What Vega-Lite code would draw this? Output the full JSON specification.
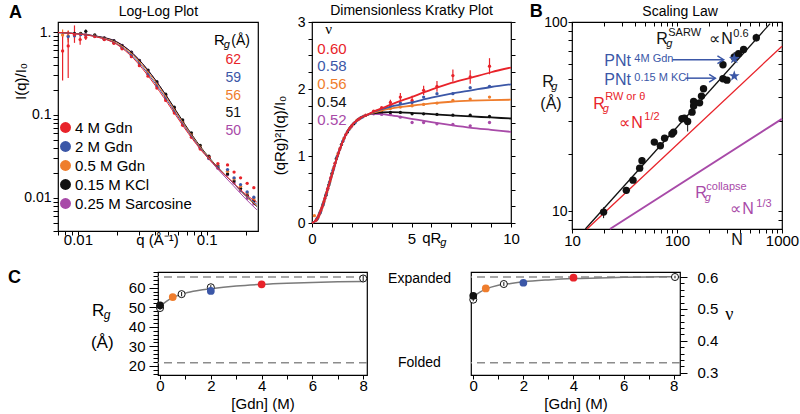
{
"$schema": "https://vega.github.io/schema/vega-lite/v6.json",
"background": "white",
"padding": {"left": 8, "top": 2, "right": 0, "bottom": 0},
"config": {
 "font": "Liberation Sans",
 "view": {"stroke": "#000000", "strokeWidth": 1.2},
 "axis": {"domain": false, "grid": false, "labelFont": "Liberation Sans", "labelFontSize": 14, "labelColor": "#000000", "tickColor": "#000000", "tickWidth": 1, "titleFont": "Liberation Sans", "titleFontSize": 15, "titleFontWeight": "normal", "titleColor": "#000000", "labelOverlap": false, "labelFlush": false, "labelBound": false},
 "text": {"font": "Liberation Sans", "baseline": "alphabetic", "align": "left"}
},
"datasets": {
 "llLine": [
  {"s":"p","q":0.007,"I":0.985},{"s":"p","q":0.01,"I":0.956},{"s":"p","q":0.014,"I":0.892},{"s":"p","q":0.02,"I":0.765},{"s":"p","q":0.027,"I":0.545},{"s":"p","q":0.037,"I":0.31},{"s":"p","q":0.05,"I":0.158},{"s":"p","q":0.067,"I":0.077},{"s":"p","q":0.09,"I":0.0395},{"s":"p","q":0.12,"I":0.0228},{"s":"p","q":0.16,"I":0.0142},{"s":"p","q":0.2,"I":0.0098},{"s":"p","q":0.245,"I":0.0072},
  {"s":"k","q":0.007,"I":0.985},{"s":"k","q":0.01,"I":0.955},{"s":"k","q":0.014,"I":0.89},{"s":"k","q":0.02,"I":0.76},{"s":"k","q":0.027,"I":0.54},{"s":"k","q":0.037,"I":0.31},{"s":"k","q":0.05,"I":0.16},{"s":"k","q":0.067,"I":0.079},{"s":"k","q":0.09,"I":0.041},{"s":"k","q":0.12,"I":0.024},{"s":"k","q":0.16,"I":0.0152},{"s":"k","q":0.2,"I":0.0106},{"s":"k","q":0.245,"I":0.0079},
  {"s":"o","q":0.007,"I":0.983},{"s":"o","q":0.01,"I":0.95},{"s":"o","q":0.014,"I":0.88},{"s":"o","q":0.02,"I":0.74},{"s":"o","q":0.027,"I":0.52},{"s":"o","q":0.037,"I":0.295},{"s":"o","q":0.05,"I":0.152},{"s":"o","q":0.067,"I":0.076},{"s":"o","q":0.09,"I":0.04},{"s":"o","q":0.12,"I":0.0238},{"s":"o","q":0.16,"I":0.0152},{"s":"o","q":0.2,"I":0.0106},{"s":"o","q":0.245,"I":0.0081},
  {"s":"b","q":0.007,"I":0.982},{"s":"b","q":0.01,"I":0.948},{"s":"b","q":0.014,"I":0.875},{"s":"b","q":0.02,"I":0.72},{"s":"b","q":0.027,"I":0.5},{"s":"b","q":0.037,"I":0.28},{"s":"b","q":0.05,"I":0.145},{"s":"b","q":0.067,"I":0.073},{"s":"b","q":0.09,"I":0.039},{"s":"b","q":0.12,"I":0.0235},{"s":"b","q":0.16,"I":0.0152},{"s":"b","q":0.2,"I":0.0108},{"s":"b","q":0.245,"I":0.0084},
  {"s":"r","q":0.007,"I":0.99},{"s":"r","q":0.01,"I":0.945},{"s":"r","q":0.014,"I":0.87},{"s":"r","q":0.02,"I":0.71},{"s":"r","q":0.027,"I":0.48},{"s":"r","q":0.037,"I":0.265},{"s":"r","q":0.05,"I":0.137},{"s":"r","q":0.067,"I":0.07},{"s":"r","q":0.09,"I":0.038},{"s":"r","q":0.12,"I":0.0233},{"s":"r","q":0.16,"I":0.0154},{"s":"r","q":0.2,"I":0.0111},{"s":"r","q":0.245,"I":0.0089}
 ],
 "llPt": [
  {"s":"p","q":0.0094,"I":0.93},{"s":"p","q":0.0105,"I":0.95},{"s":"p","q":0.0115,"I":0.935},{"s":"p","q":0.0135,"I":0.905},{"s":"p","q":0.016,"I":0.845},{"s":"p","q":0.019,"I":0.782},{"s":"p","q":0.022,"I":0.686},{"s":"p","q":0.026,"I":0.566},{"s":"p","q":0.03,"I":0.449},{"s":"p","q":0.035,"I":0.341},{"s":"p","q":0.041,"I":0.246},{"s":"p","q":0.048,"I":0.173},{"s":"p","q":0.056,"I":0.12},{"s":"p","q":0.065,"I":0.0832},{"s":"p","q":0.076,"I":0.058},{"s":"p","q":0.089,"I":0.0405},{"s":"p","q":0.104,"I":0.0298},{"s":"p","q":0.122,"I":0.0228},{"s":"p","q":0.145,"I":0.019},{"s":"p","q":0.163,"I":0.0152},{"s":"p","q":0.183,"I":0.0122},{"s":"p","q":0.206,"I":0.0099},{"s":"p","q":0.232,"I":0.0085},
  {"s":"k","q":0.0094,"I":0.96},{"s":"k","q":0.0105,"I":0.96},{"s":"k","q":0.0115,"I":1.02},{"s":"k","q":0.0135,"I":0.92},{"s":"k","q":0.016,"I":0.85},{"s":"k","q":0.019,"I":0.785},{"s":"k","q":0.022,"I":0.69},{"s":"k","q":0.026,"I":0.57},{"s":"k","q":0.03,"I":0.455},{"s":"k","q":0.035,"I":0.348},{"s":"k","q":0.041,"I":0.252},{"s":"k","q":0.048,"I":0.178},{"s":"k","q":0.056,"I":0.124},{"s":"k","q":0.065,"I":0.087},{"s":"k","q":0.076,"I":0.061},{"s":"k","q":0.089,"I":0.043},{"s":"k","q":0.104,"I":0.0318},{"s":"k","q":0.122,"I":0.0245},{"s":"k","q":0.145,"I":0.0195},{"s":"k","q":0.163,"I":0.016},{"s":"k","q":0.183,"I":0.013},{"s":"k","q":0.206,"I":0.0108},{"s":"k","q":0.232,"I":0.0093},
  {"s":"o","q":0.0076,"I":0.92},{"s":"o","q":0.0084,"I":0.9},{"s":"o","q":0.0094,"I":0.92},{"s":"o","q":0.0105,"I":0.94},{"s":"o","q":0.0115,"I":0.925},{"s":"o","q":0.0135,"I":0.893},{"s":"o","q":0.016,"I":0.824},{"s":"o","q":0.019,"I":0.754},{"s":"o","q":0.022,"I":0.656},{"s":"o","q":0.026,"I":0.539},{"s":"o","q":0.03,"I":0.426},{"s":"o","q":0.035,"I":0.323},{"s":"o","q":0.041,"I":0.233},{"s":"o","q":0.048,"I":0.166},{"s":"o","q":0.056,"I":0.1163},{"s":"o","q":0.065,"I":0.0816},{"s":"o","q":0.076,"I":0.0577},{"s":"o","q":0.089,"I":0.041},{"s":"o","q":0.104,"I":0.0305},{"s":"o","q":0.122,"I":0.0237},{"s":"o","q":0.145,"I":0.021},{"s":"o","q":0.163,"I":0.017},{"s":"o","q":0.183,"I":0.0138},{"s":"o","q":0.206,"I":0.0115},{"s":"o","q":0.232,"I":0.0098},
  {"s":"b","q":0.0084,"I":0.88},{"s":"b","q":0.0094,"I":0.9},{"s":"b","q":0.0105,"I":0.93},{"s":"b","q":0.0115,"I":0.919},{"s":"b","q":0.0135,"I":0.886},{"s":"b","q":0.016,"I":0.816},{"s":"b","q":0.019,"I":0.742},{"s":"b","q":0.022,"I":0.642},{"s":"b","q":0.026,"I":0.525},{"s":"b","q":0.03,"I":0.411},{"s":"b","q":0.035,"I":0.31},{"s":"b","q":0.041,"I":0.223},{"s":"b","q":0.048,"I":0.158},{"s":"b","q":0.056,"I":0.111},{"s":"b","q":0.065,"I":0.078},{"s":"b","q":0.076,"I":0.056},{"s":"b","q":0.089,"I":0.04},{"s":"b","q":0.104,"I":0.03},{"s":"b","q":0.122,"I":0.0235},{"s":"b","q":0.145,"I":0.022},{"s":"b","q":0.163,"I":0.0175},{"s":"b","q":0.183,"I":0.0145},{"s":"b","q":0.206,"I":0.0118},{"s":"b","q":0.232,"I":0.0102},
  {"s":"r","q":0.0076,"I":0.59},{"s":"r","q":0.0084,"I":0.68},{"s":"r","q":0.0094,"I":0.93},{"s":"r","q":0.0104,"I":0.81},{"s":"r","q":0.0115,"I":0.86},{"s":"r","q":0.0135,"I":0.882},{"s":"r","q":0.016,"I":0.81},{"s":"r","q":0.019,"I":0.73},{"s":"r","q":0.022,"I":0.627},{"s":"r","q":0.026,"I":0.505},{"s":"r","q":0.03,"I":0.393},{"s":"r","q":0.035,"I":0.294},{"s":"r","q":0.041,"I":0.211},{"s":"r","q":0.048,"I":0.15},{"s":"r","q":0.056,"I":0.1057},{"s":"r","q":0.065,"I":0.075},{"s":"r","q":0.076,"I":0.0539},{"s":"r","q":0.089,"I":0.0389},{"s":"r","q":0.104,"I":0.031},{"s":"r","q":0.122,"I":0.026},{"s":"r","q":0.145,"I":0.025},{"s":"r","q":0.163,"I":0.0205},{"s":"r","q":0.183,"I":0.0175},{"s":"r","q":0.206,"I":0.015},{"s":"r","q":0.232,"I":0.0133}
 ],
 "llErr": [
  {"s":"k","q":0.0115,"lo":0.97,"hi":1.07},
  {"s":"b","q":0.0084,"lo":0.8,"hi":0.95},{"s":"b","q":0.0094,"lo":0.84,"hi":0.96},
  {"s":"o","q":0.0076,"lo":0.85,"hi":1.07},{"s":"o","q":0.0084,"lo":0.75,"hi":1.05},
  {"s":"r","q":0.0076,"lo":0.26,"hi":1.0},{"s":"r","q":0.0084,"lo":0.28,"hi":1.03},{"s":"r","q":0.0094,"lo":0.74,"hi":1.2},{"s":"r","q":0.0104,"lo":0.7,"hi":0.92},{"s":"r","q":0.0115,"lo":0.8,"hi":0.92}
 ],
 "llRg": [
  {"s":"r","q":0.1605,"I":0.415,"t":"62"},{"s":"b","q":0.1605,"I":0.25,"t":"59"},{"s":"o","q":0.1605,"I":0.153,"t":"56"},{"s":"k","q":0.1605,"I":0.0938,"t":"51"},{"s":"p","q":0.1605,"I":0.0569,"t":"50"}
 ],
 "llTxt": [
  {"k":"letter","q":0.00292,"I":1.475,"t":"A"},
  {"k":"title","q":0.0421,"I":1.559,"t":"Log-Log Plot"},
  {"k":"big","q":0.1139,"I":0.703,"t":"R"},
  {"k":"sub","q":0.1355,"I":0.641,"t":"g"},
  {"k":"big2","q":0.155,"I":0.703,"t":"(Å)"}
 ],
 "kLine": [
  {"s":"p","x":0,"y":0},{"s":"p","x":0.25,"y":0.06},{"s":"p","x":0.5,"y":0.23},{"s":"p","x":0.75,"y":0.47},{"s":"p","x":1,"y":0.72},{"s":"p","x":1.25,"y":0.97},{"s":"p","x":1.5,"y":1.18},{"s":"p","x":1.75,"y":1.35},{"s":"p","x":2,"y":1.46},{"s":"p","x":2.25,"y":1.53},{"s":"p","x":2.5,"y":1.58},{"s":"p","x":2.75,"y":1.61},{"s":"p","x":3,"y":1.63},{"s":"p","x":3.5,"y":1.625},{"s":"p","x":4,"y":1.605},{"s":"p","x":5,"y":1.555},{"s":"p","x":6,"y":1.505},{"s":"p","x":7,"y":1.46},{"s":"p","x":8,"y":1.42},{"s":"p","x":9,"y":1.39},{"s":"p","x":10,"y":1.36},
  {"s":"k","x":0,"y":0},{"s":"k","x":0.25,"y":0.06},{"s":"k","x":0.5,"y":0.23},{"s":"k","x":0.75,"y":0.47},{"s":"k","x":1,"y":0.72},{"s":"k","x":1.25,"y":0.97},{"s":"k","x":1.5,"y":1.18},{"s":"k","x":1.75,"y":1.35},{"s":"k","x":2,"y":1.46},{"s":"k","x":2.25,"y":1.53},{"s":"k","x":2.5,"y":1.58},{"s":"k","x":2.75,"y":1.61},{"s":"k","x":3,"y":1.635},{"s":"k","x":3.5,"y":1.65},{"s":"k","x":4,"y":1.655},{"s":"k","x":5,"y":1.645},{"s":"k","x":6,"y":1.625},{"s":"k","x":7,"y":1.605},{"s":"k","x":8,"y":1.59},{"s":"k","x":9,"y":1.575},{"s":"k","x":10,"y":1.56},
  {"s":"o","x":0,"y":0},{"s":"o","x":0.25,"y":0.06},{"s":"o","x":0.5,"y":0.23},{"s":"o","x":0.75,"y":0.47},{"s":"o","x":1,"y":0.72},{"s":"o","x":1.25,"y":0.97},{"s":"o","x":1.5,"y":1.18},{"s":"o","x":1.75,"y":1.35},{"s":"o","x":2,"y":1.46},{"s":"o","x":2.25,"y":1.53},{"s":"o","x":2.5,"y":1.58},{"s":"o","x":2.75,"y":1.61},{"s":"o","x":3,"y":1.64},{"s":"o","x":3.5,"y":1.68},{"s":"o","x":4,"y":1.71},{"s":"o","x":5,"y":1.75},{"s":"o","x":6,"y":1.785},{"s":"o","x":7,"y":1.81},{"s":"o","x":8,"y":1.825},{"s":"o","x":9,"y":1.835},{"s":"o","x":10,"y":1.84},
  {"s":"b","x":0,"y":0},{"s":"b","x":0.25,"y":0.06},{"s":"b","x":0.5,"y":0.23},{"s":"b","x":0.75,"y":0.47},{"s":"b","x":1,"y":0.72},{"s":"b","x":1.25,"y":0.97},{"s":"b","x":1.5,"y":1.18},{"s":"b","x":1.75,"y":1.35},{"s":"b","x":2,"y":1.46},{"s":"b","x":2.25,"y":1.53},{"s":"b","x":2.5,"y":1.58},{"s":"b","x":2.75,"y":1.61},{"s":"b","x":3,"y":1.645},{"s":"b","x":3.5,"y":1.7},{"s":"b","x":4,"y":1.74},{"s":"b","x":5,"y":1.8},{"s":"b","x":6,"y":1.87},{"s":"b","x":7,"y":1.93},{"s":"b","x":8,"y":1.98},{"s":"b","x":9,"y":2.03},{"s":"b","x":10,"y":2.07},
  {"s":"r","x":0,"y":0},{"s":"r","x":0.25,"y":0.06},{"s":"r","x":0.5,"y":0.23},{"s":"r","x":0.75,"y":0.47},{"s":"r","x":1,"y":0.72},{"s":"r","x":1.25,"y":0.97},{"s":"r","x":1.5,"y":1.18},{"s":"r","x":1.75,"y":1.35},{"s":"r","x":2,"y":1.46},{"s":"r","x":2.25,"y":1.53},{"s":"r","x":2.5,"y":1.58},{"s":"r","x":2.75,"y":1.61},{"s":"r","x":3,"y":1.65},{"s":"r","x":3.5,"y":1.71},{"s":"r","x":4,"y":1.77},{"s":"r","x":5,"y":1.88},{"s":"r","x":6,"y":1.99},{"s":"r","x":7,"y":2.09},{"s":"r","x":8,"y":2.17},{"s":"r","x":9,"y":2.25},{"s":"r","x":10,"y":2.32}
 ],
 "kPt": [
  {"s":"p","x":0.3,"y":0.087},{"s":"p","x":0.45,"y":0.188},{"s":"p","x":0.6,"y":0.32},{"s":"p","x":0.78,"y":0.5},{"s":"p","x":0.93,"y":0.66},{"s":"p","x":1.1,"y":0.835},{"s":"p","x":1.33,"y":1.05},{"s":"p","x":1.62,"y":1.27},{"s":"p","x":1.95,"y":1.43},{"s":"p","x":2.3,"y":1.54},
  {"s":"p","x":3.1,"y":1.63},{"s":"p","x":3.5,"y":1.62},{"s":"p","x":3.94,"y":1.62},{"s":"p","x":4.44,"y":1.58},{"s":"p","x":5.03,"y":1.5},{"s":"p","x":5.61,"y":1.5},{"s":"p","x":6.28,"y":1.48},{"s":"p","x":7.08,"y":1.47},{"s":"p","x":7.95,"y":1.45},{"s":"p","x":8.92,"y":1.5},
  {"s":"k","x":0.25,"y":0.06},{"s":"k","x":0.4,"y":0.15},{"s":"k","x":0.55,"y":0.27},{"s":"k","x":0.7,"y":0.415},{"s":"k","x":0.85,"y":0.57},{"s":"k","x":1.0,"y":0.735},{"s":"k","x":1.22,"y":0.96},{"s":"k","x":1.48,"y":1.17},{"s":"k","x":1.78,"y":1.36},{"s":"k","x":2.1,"y":1.48},{"s":"k","x":2.45,"y":1.57},
  {"s":"k","x":3.1,"y":1.64},{"s":"k","x":3.5,"y":1.65},{"s":"k","x":3.94,"y":1.65},{"s":"k","x":4.44,"y":1.65},{"s":"k","x":5.03,"y":1.63},{"s":"k","x":5.61,"y":1.63},{"s":"k","x":6.28,"y":1.62},{"s":"k","x":7.08,"y":1.61},{"s":"k","x":7.95,"y":1.61},{"s":"k","x":8.92,"y":1.59},
  {"s":"o","x":0.12,"y":0.11},{"s":"o","x":0.3,"y":0.087},{"s":"o","x":0.45,"y":0.188},{"s":"o","x":0.6,"y":0.32},{"s":"o","x":0.75,"y":0.465},{"s":"o","x":0.9,"y":0.625},{"s":"o","x":1.08,"y":0.815},{"s":"o","x":1.3,"y":1.03},{"s":"o","x":1.6,"y":1.26},{"s":"o","x":1.9,"y":1.41},{"s":"o","x":2.25,"y":1.53},{"s":"o","x":2.6,"y":1.595},
  {"s":"o","x":3.1,"y":1.65},{"s":"o","x":3.5,"y":1.68},{"s":"o","x":3.94,"y":1.71},{"s":"o","x":4.44,"y":1.73},{"s":"o","x":5.03,"y":1.75},{"s":"o","x":5.61,"y":1.77},{"s":"o","x":6.28,"y":1.79},{"s":"o","x":7.08,"y":1.83},{"s":"o","x":7.95,"y":1.85},{"s":"o","x":8.92,"y":1.88},
  {"s":"b","x":0.27,"y":0.07},{"s":"b","x":0.42,"y":0.165},{"s":"b","x":0.57,"y":0.29},{"s":"b","x":0.72,"y":0.435},{"s":"b","x":0.88,"y":0.605},{"s":"b","x":1.05,"y":0.785},{"s":"b","x":1.27,"y":0.995},{"s":"b","x":1.55,"y":1.22},{"s":"b","x":1.85,"y":1.39},{"s":"b","x":2.17,"y":1.5},{"s":"b","x":2.52,"y":1.58},
  {"s":"b","x":3.1,"y":1.66},{"s":"b","x":3.5,"y":1.7},{"s":"b","x":3.94,"y":1.75},{"s":"b","x":4.44,"y":1.79},{"s":"b","x":5.03,"y":1.8},{"s":"b","x":5.61,"y":1.88},{"s":"b","x":6.28,"y":1.93},{"s":"b","x":7.08,"y":1.93},{"s":"b","x":7.95,"y":2.02},{"s":"b","x":8.92,"y":2.04},
  {"s":"r","x":0.2,"y":0.04},{"s":"r","x":0.35,"y":0.12},{"s":"r","x":0.5,"y":0.23},{"s":"r","x":0.65,"y":0.37},{"s":"r","x":0.8,"y":0.52},{"s":"r","x":0.95,"y":0.68},{"s":"r","x":1.15,"y":0.89},{"s":"r","x":1.4,"y":1.11},{"s":"r","x":1.7,"y":1.32},{"s":"r","x":2.0,"y":1.45},{"s":"r","x":2.35,"y":1.55},{"s":"r","x":2.7,"y":1.61},
  {"s":"r","x":3.1,"y":1.67},{"s":"r","x":3.5,"y":1.72},{"s":"r","x":3.94,"y":1.8},{"s":"r","x":4.44,"y":1.88},{"s":"r","x":5.03,"y":1.83},{"s":"r","x":5.61,"y":1.98},{"s":"r","x":6.28,"y":2.04},{"s":"r","x":7.08,"y":2.2},{"s":"r","x":7.95,"y":2.18},{"s":"r","x":8.92,"y":2.34}
 ],
 "kErr": [
  {"s":"r","x":3.94,"lo":1.76,"hi":1.84},{"s":"r","x":4.44,"lo":1.82,"hi":1.94},{"s":"r","x":5.03,"lo":1.76,"hi":1.9},{"s":"r","x":5.61,"lo":1.91,"hi":2.05},{"s":"r","x":6.28,"lo":1.96,"hi":2.12},{"s":"r","x":7.08,"lo":2.11,"hi":2.29},{"s":"r","x":7.95,"lo":2.08,"hi":2.28},{"s":"r","x":8.92,"lo":2.22,"hi":2.46}
 ],
 "kLab": [
  {"s":"r","x":0.27,"y":2.52,"t":"0.60"},{"s":"b","x":0.27,"y":2.268,"t":"0.58"},{"s":"o","x":0.27,"y":1.998,"t":"0.56"},{"s":"k","x":0.27,"y":1.729,"t":"0.54"},{"s":"p","x":0.27,"y":1.46,"t":"0.52"}
 ],
 "kTxt": [
  {"k":"nu","x":0.67,"y":2.82,"t":"ν"},
  {"k":"title","x":5.0,"y":3.105,"t":"Dimensionless Kratky Plot"},
  {"k":"big","x":5.54,"y":-0.303,"t":"qR"},
  {"k":"sub","x":6.45,"y":-0.348,"t":"g"}
 ],
 "bLine": [
  {"l":"k","N":13.4,"Rg":8.06},{"l":"k","N":770,"Rg":98},
  {"l":"r","N":13.9,"Rg":8.06},{"l":"r","N":1000,"Rg":74.5},
  {"l":"p","N":23,"Rg":8.06},{"l":"p","N":1000,"Rg":30.8}
 ],
 "bPt": [
  {"N":20.0,"Rg":9.9},{"N":32.9,"Rg":12.9},{"N":38.1,"Rg":14.6},{"N":44.1,"Rg":16.9},{"N":46.4,"Rg":18.5},{"N":60.8,"Rg":23.2},{"N":69.4,"Rg":22.2},{"N":76.2,"Rg":24.3},{"N":89.5,"Rg":25.6},{"N":92.9,"Rg":26.2},{"N":111.6,"Rg":30.8},{"N":117.5,"Rg":31.0},{"N":126.3,"Rg":29.8},{"N":139,"Rg":33.4},{"N":144,"Rg":36.0},{"N":144,"Rg":38.0},{"N":164,"Rg":37.4},{"N":171,"Rg":40.6},{"N":179,"Rg":44.4},{"N":274,"Rg":59.4},{"N":274,"Rg":50.1},{"N":299,"Rg":49.3},{"N":351,"Rg":65.3},{"N":386,"Rg":68.0},{"N":431,"Rg":71.6},{"N":569,"Rg":82.6}
 ],
 "bErr": [
  {"N":20.0,"lo":9.2,"hi":10.5},{"N":32.9,"lo":12.4,"hi":13.4},{"N":46.4,"lo":17.9,"hi":19.3},{"N":126.3,"lo":26.4,"hi":31.4},{"N":274,"lo":57.5,"hi":61.5},{"N":351,"lo":61.5,"hi":69.4},{"N":569,"lo":79,"hi":86.7}
 ],
 "bStar": [{"N":351,"Rg":64.0},{"N":351,"Rg":51.8}],
 "bArrow": [{"N1":90.2,"N2":278,"Rg":63.2},{"N1":120,"N2":232,"Rg":50.5}],
 "bTxt": [
  {"k":"big","tc":"k","N":63.5,"Rg":76.8,"t":"R"},
  {"k":"big","tc":"k","N":203,"Rg":76.8,"t":"∝"},
  {"k":"big","tc":"k","N":264,"Rg":76.8,"t":"N"},
  {"k":"big","tc":"b","N":20.3,"Rg":58.9,"t":"PNt"},
  {"k":"big","tc":"b","N":20.3,"Rg":46.6,"t":"PNt"},
  {"k":"big","tc":"r","N":15.96,"Rg":34.8,"t":"R"},
  {"k":"big","tc":"r","N":28.2,"Rg":27.6,"t":"∝"},
  {"k":"big","tc":"r","N":36.7,"Rg":27.6,"t":"N"},
  {"k":"big","tc":"p","N":149,"Rg":11.76,"t":"R"},
  {"k":"big","tc":"p","N":322,"Rg":9.68,"t":"∝"},
  {"k":"big","tc":"p","N":419,"Rg":9.68,"t":"N"},
  {"k":"big","tc":"k","N":5.21,"Rg":45.5,"t":"R"},
  {"k":"big","tc":"k","N":4.99,"Rg":34.8,"t":"(Å)"},
  {"k":"big","tc":"k","N":329,"Rg":6.63,"t":"N"},
  {"k":"sup","tc":"k","N":82.6,"Rg":84.6,"t":"SARW"},
  {"k":"sup","tc":"k","N":344,"Rg":83.6,"t":"0.6"},
  {"k":"sup","tc":"b","N":39.2,"Rg":61.4,"t":"4M Gdn"},
  {"k":"sup","tc":"b","N":39.2,"Rg":48.9,"t":"0.15 M KCl"},
  {"k":"sup","tc":"r","N":20.7,"Rg":38.5,"t":"RW or θ"},
  {"k":"sup","tc":"r","N":48.8,"Rg":30.4,"t":"1/2"},
  {"k":"sup","tc":"p","N":190,"Rg":12.96,"t":"collapse"},
  {"k":"sup","tc":"p","N":569,"Rg":10.54,"t":"1/3"},
  {"k":"sub","tc":"k","N":79.1,"Rg":74.0,"t":"g"},
  {"k":"sub","tc":"r","N":19.6,"Rg":33.5,"t":"g"},
  {"k":"sub","tc":"p","N":184,"Rg":11.34,"t":"g"},
  {"k":"sub","tc":"k","N":6.35,"Rg":43.8,"t":"g"},
  {"k":"letter","tc":"k","N":3.95,"Rg":106.6,"t":"B"},
  {"k":"title","tc":"k","N":107,"Rg":108,"t":"Scaling Law"}
 ],
 "cLetter": [{"x":-50,"y":92,"t":"C"}],
 "cLine1": [{"x":0,"y":50.5},{"x":0.25,"y":53.0},{"x":0.5,"y":54.9},{"x":1,"y":57.2},{"x":1.5,"y":58.5},{"x":2,"y":59.4},{"x":3,"y":60.8},{"x":4,"y":61.7},{"x":5,"y":62.3},{"x":6,"y":62.7},{"x":7,"y":63.0},{"x":8,"y":63.2}],
 "cPt1": [{"s":"k","x":0,"y":51.0},{"s":"o","x":0.5,"y":55.2},{"s":"b","x":2,"y":58.3},{"s":"r","x":4,"y":61.7}],
 "cOpen1": [{"x":0,"y":49.6},{"x":0.85,"y":56.7},{"x":2,"y":60.2},{"x":8,"y":64.7}],
 "cErr1": [{"s":"k","x":0,"lo":48.7,"hi":50.5},{"s":"k","x":0.85,"lo":55.6,"hi":57.8},{"s":"k","x":2,"lo":59.1,"hi":61.3},{"s":"k","x":8,"lo":63.2,"hi":66.2}],
 "cDash1": [{"y":65.5},{"y":21.7}],
 "cTxt1": [
  {"k":"big","x":-2.68,"y":45.5,"t":"R"},
  {"k":"sub","x":-2.22,"y":44.0,"t":"g"},
  {"k":"big","x":-2.72,"y":29.4,"t":"(Å)"},
  {"k":"lab","x":8.98,"y":62.4,"t":"Expanded"},
  {"k":"lab","x":9.37,"y":19.5,"t":"Folded"}
 ],
 "cLine2": [{"x":0,"y":0.538},{"x":0.25,"y":0.552},{"x":0.5,"y":0.562},{"x":1,"y":0.574},{"x":1.5,"y":0.58},{"x":2,"y":0.585},{"x":3,"y":0.591},{"x":4,"y":0.595},{"x":5,"y":0.597},{"x":6,"y":0.599},{"x":7,"y":0.6},{"x":8,"y":0.601}],
 "cPt2": [{"s":"k","x":0,"y":0.541},{"s":"o","x":0.5,"y":0.564},{"s":"b","x":2,"y":0.582},{"s":"r","x":4,"y":0.598}],
 "cOpen2": [{"x":0,"y":0.529},{"x":1.22,"y":0.578},{"x":8.05,"y":0.6}],
 "cErr2": [{"s":"k","x":0,"lo":0.524,"hi":0.534},{"s":"k","x":1.22,"lo":0.572,"hi":0.584},{"s":"r","x":4,"lo":0.592,"hi":0.607},{"s":"k","x":8.05,"lo":0.596,"hi":0.604}],
 "cDash2": [{"y":0.6},{"y":0.331}]
},
"concat": [
 {"hconcat": [
   {"hconcat": [
     {"width": 200, "height": 209,
      "encoding": {
        "x": {"field": "q", "type": "quantitative", "scale": {"type": "log", "domain": [0.007, 0.25], "nice": false}, "axis": null},
        "y": {"field": "I", "type": "quantitative", "scale": {"type": "log", "domain": [0.004, 1.32], "nice": false}, "axis": null}
      },
      "layer": [
       {"data": {"name": "llErr"}, "mark": {"type": "rule", "strokeWidth": 1.2},
        "encoding": {
         "x": {"field": "q", "type": "quantitative", "scale": {"type": "log", "domain": [0.007, 0.25], "nice": false},
               "axis": {"values": [0.007,0.008,0.009,0.01,0.02,0.03,0.04,0.05,0.06,0.07,0.08,0.09,0.1,0.2], "labelExpr": "datum.value == 0.01 ? '0.01' : datum.value == 0.1 ? '0.1' : ''", "title": "q (Å⁻¹)", "titleX": 99, "titleY": 13, "titleBaseline": "alphabetic", "titleFontSize": 15, "tickSize": 4, "labelBaseline": "alphabetic", "labelPadding": 9, "labelFontSize": 15}},
         "y": {"field": "lo", "type": "quantitative", "scale": {"type": "log", "domain": [0.004, 1.32], "nice": false},
               "axis": {"values": [0.004,0.005,0.006,0.007,0.008,0.009,0.01,0.02,0.03,0.04,0.05,0.06,0.07,0.08,0.09,0.1,0.2,0.3,0.4,0.5,0.6,0.7,0.8,0.9,1], "labelExpr": "datum.value == 1 ? '1.' : datum.value == 0.1 ? '0.1' : datum.value == 0.01 ? '0.01' : ''", "title": "I(q)/I₀", "titleX": -30, "titleY": 59, "titleFontSize": 15, "tickSize": 5, "labelPadding": 2}},
         "y2": {"field": "hi"},
         "color": {"field": "s", "type": "nominal", "scale": {"domain": ["r","b","o","k","p"], "range": ["#e8232a","#3b57a7","#ef7d2d","#111111","#a84aa8"]}, "legend": null}}},
       {"data": {"name": "llPt"}, "mark": {"type": "circle", "size": 11, "opacity": 1},
        "encoding": {
         "color": {"field": "s", "type": "nominal", "scale": {"domain": ["r","b","o","k","p"], "range": ["#e8232a","#3b57a7","#ef7d2d","#111111","#a84aa8"]},
                   "legend": {"orient": "none", "legendX": 0, "legendY": 98, "title": null, "symbolType": "circle", "symbolSize": 120, "symbolStrokeWidth": 0, "symbolOpacity": 1, "labelFontSize": 15, "labelFont": "Liberation Sans", "labelColor": "#000000", "rowPadding": 3, "labelOffset": 2, "padding": 0,
                              "labelExpr": "datum.label == 'r' ? '4 M Gdn' : datum.label == 'b' ? '2 M Gdn' : datum.label == 'o' ? '0.5 M Gdn' : datum.label == 'k' ? '0.15 M KCl' : '0.25 M Sarcosine'"}}}},
       {"data": {"name": "llLine"}, "mark": {"type": "line", "strokeWidth": 1, "interpolate": "monotone"},
        "encoding": {"color": {"field": "s", "type": "nominal", "legend": null}}},
       {"data": {"name": "llRg"}, "mark": {"type": "text", "fontSize": 14, "align": "center"},
        "encoding": {"text": {"field": "t"}, "color": {"field": "s", "type": "nominal", "legend": null}}},
       {"data": {"name": "llTxt"}, "transform": [{"filter": "datum.k == 'big'"}], "mark": {"type": "text", "fontSize": 15, "color": "#000000"},
        "encoding": {"text": {"field": "t"}}},
       {"data": {"name": "llTxt"}, "transform": [{"filter": "datum.k == 'big2'"}], "mark": {"type": "text", "fontSize": 14, "color": "#000000"},
        "encoding": {"text": {"field": "t"}}},
       {"data": {"name": "llTxt"}, "transform": [{"filter": "datum.k == 'sub'"}], "mark": {"type": "text", "fontSize": 11, "fontStyle": "italic", "color": "#000000"},
        "encoding": {"text": {"field": "t"}}},
       {"data": {"name": "llTxt"}, "transform": [{"filter": "datum.k == 'title'"}], "mark": {"type": "text", "fontSize": 14, "align": "center", "color": "#000000"},
        "encoding": {"text": {"field": "t"}}},
       {"data": {"name": "llTxt"}, "transform": [{"filter": "datum.k == 'letter'"}], "mark": {"type": "text", "fontSize": 18, "fontWeight": "bold", "color": "#000000"},
        "encoding": {"text": {"field": "t"}}}
      ],
      "resolve": {"axis": {"x": "independent", "y": "independent"}, "legend": {"color": "independent"}}},
     {"width": 199, "height": 201,
      "encoding": {
        "x": {"field": "x", "type": "quantitative", "scale": {"domain": [0, 10], "nice": false, "zero": false}, "axis": null},
        "y": {"field": "y", "type": "quantitative", "scale": {"domain": [0, 3], "nice": false, "zero": false}, "axis": null}
      },
      "layer": [
       {"data": {"name": "kErr"}, "mark": {"type": "rule", "strokeWidth": 1.2},
        "encoding": {
         "x": {"field": "x", "type": "quantitative", "scale": {"domain": [0, 10], "nice": false, "zero": false},
               "axis": {"values": [0,1,2,3,4,5,6,7,8,9,10], "labelExpr": "datum.value % 5 == 0 ? format(datum.value, 'd') : ''", "title": null, "tickSize": 4, "labelBaseline": "alphabetic", "labelPadding": 16, "labelFontSize": 15}},
         "y": {"field": "lo", "type": "quantitative", "scale": {"domain": [0, 3], "nice": false, "zero": false},
               "axis": {"values": [0,0.25,0.5,0.75,1,1.25,1.5,1.75,2,2.25,2.5,2.75,3], "labelExpr": "datum.value % 1 == 0 ? format(datum.value, 'd') : ''", "title": "(qRg)²I(q)/I₀", "titleX": -25, "titleY": 113, "titleFontSize": 15, "tickSize": 4, "labelPadding": 3}},
         "y2": {"field": "hi"},
         "color": {"field": "s", "type": "nominal", "scale": {"domain": ["r","b","o","k","p"], "range": ["#e8232a","#3b57a7","#ef7d2d","#111111","#a84aa8"]}, "legend": null}}},
       {"data": {"name": "kPt"}, "mark": {"type": "circle", "size": 11, "opacity": 1},
        "encoding": {"color": {"field": "s", "type": "nominal", "legend": null}}},
       {"data": {"name": "kLine"}, "mark": {"type": "line", "strokeWidth": 1.8, "interpolate": "monotone"},
        "encoding": {"color": {"field": "s", "type": "nominal", "legend": null}}},
       {"data": {"name": "kLab"}, "mark": {"type": "text", "fontSize": 15},
        "encoding": {"text": {"field": "t"}, "color": {"field": "s", "type": "nominal", "legend": null}}},
       {"data": {"name": "kTxt"}, "transform": [{"filter": "datum.k == 'nu'"}], "mark": {"type": "text", "fontSize": 15, "font": "Liberation Serif", "color": "#000000"},
        "encoding": {"text": {"field": "t"}}},
       {"data": {"name": "kTxt"}, "transform": [{"filter": "datum.k == 'title'"}], "mark": {"type": "text", "fontSize": 14, "align": "center", "color": "#000000"},
        "encoding": {"text": {"field": "t"}}},
       {"data": {"name": "kTxt"}, "transform": [{"filter": "datum.k == 'big'"}], "mark": {"type": "text", "fontSize": 15, "color": "#000000"},
        "encoding": {"text": {"field": "t"}}},
       {"data": {"name": "kTxt"}, "transform": [{"filter": "datum.k == 'sub'"}], "mark": {"type": "text", "fontSize": 11, "fontStyle": "italic", "color": "#000000"},
        "encoding": {"text": {"field": "t"}}},
       {"data": {"name": "kLine"}, "mark": {"type": "point", "opacity": 0},
        "encoding": {
         "y": {"field": "y", "type": "quantitative", "scale": {"domain": [0, 3], "nice": false, "zero": false}, "axis": {"orient": "right", "values": [0,0.25,0.5,0.75,1,1.25,1.5,1.75,2,2.25,2.5,2.75,3], "labels": false, "title": null, "tickSize": 4}}}}
      ],
      "resolve": {"axis": {"x": "independent", "y": "independent"}}}
   ],
   "spacing": 11,
   "resolve": {"legend": {"color": "independent"}}},
   {"width": 210, "height": 207,
    "encoding": {
      "x": {"field": "N", "type": "quantitative", "scale": {"type": "log", "domain": [10, 1000], "nice": false}, "axis": null},
      "y": {"field": "Rg", "type": "quantitative", "scale": {"type": "log", "domain": [8.06, 100], "nice": false}, "axis": null}
    },
    "layer": [
     {"data": {"name": "bLine"}, "transform": [{"filter": "datum.l == 'k'"}], "mark": {"type": "line", "color": "#111111", "strokeWidth": 1.3},
      "encoding": {
       "x": {"field": "N", "type": "quantitative", "scale": {"type": "log", "domain": [10, 1000], "nice": false},
             "axis": {"values": [10,20,30,40,50,60,70,80,90,100,200,300,400,500,600,700,800,900,1000], "labelExpr": "datum.value == 10 || datum.value == 100 || datum.value == 1000 ? format(datum.value, 'd') : ''", "title": null, "tickSize": 4, "labelBaseline": "alphabetic", "labelPadding": 12, "labelFontSize": 15}},
       "y": {"field": "Rg", "type": "quantitative", "scale": {"type": "log", "domain": [8.06, 100], "nice": false},
             "axis": {"values": [9,10,20,30,40,50,60,70,80,90,100], "labelExpr": "datum.value == 10 || datum.value == 100 ? format(datum.value, 'd') : ''", "title": null, "tickSize": 4, "labelPadding": 1, "labelFontSize": 14}}}},
     {"data": {"name": "bLine"}, "transform": [{"filter": "datum.l == 'r'"}], "mark": {"type": "line", "color": "#e8232a", "strokeWidth": 1.3}},
     {"data": {"name": "bLine"}, "transform": [{"filter": "datum.l == 'p'"}], "mark": {"type": "line", "color": "#a84aa8", "strokeWidth": 2}},
     {"data": {"name": "bErr"}, "mark": {"type": "rule", "color": "#111111", "strokeWidth": 1},
      "encoding": {"y": {"field": "lo", "type": "quantitative", "scale": {"type": "log", "domain": [8.06, 100], "nice": false}, "axis": null}, "y2": {"field": "hi"}}},
     {"data": {"name": "bPt"}, "mark": {"type": "circle", "size": 55, "color": "#111111", "opacity": 1}},
     {"data": {"name": "bStar"}, "mark": {"type": "point", "shape": "M0,-1L0.235,-0.324L0.951,-0.309L0.38,0.124L0.588,0.809L0,0.4L-0.588,0.809L-0.38,0.124L-0.951,-0.309L-0.235,-0.324Z", "size": 130, "filled": true, "color": "#3b57a7", "opacity": 1}},
     {"data": {"name": "bArrow"}, "mark": {"type": "rule", "color": "#3b57a7", "strokeWidth": 1.5},
      "encoding": {"x": {"field": "N1", "type": "quantitative", "scale": {"type": "log", "domain": [10, 1000], "nice": false}, "axis": null}, "x2": {"field": "N2"}}},
     {"data": {"name": "bArrow"}, "mark": {"type": "point", "shape": "M-1.6,-1L0,0L-1.6,1", "size": 60, "filled": false, "color": "#3b57a7", "strokeWidth": 1.5, "opacity": 1},
      "encoding": {"x": {"field": "N2", "type": "quantitative", "scale": {"type": "log", "domain": [10, 1000], "nice": false}, "axis": null}}},
     {"data": {"name": "bTxt"}, "transform": [{"filter": "datum.k == 'big'"}], "mark": {"type": "text", "fontSize": 16},
      "encoding": {"text": {"field": "t"},
       "fill": {"field": "tc", "type": "nominal", "scale": {"domain": ["k","b","r","p"], "range": ["#111111","#3b57a7","#e8232a","#a84aa8"]}, "legend": null}}},
     {"data": {"name": "bTxt"}, "transform": [{"filter": "datum.k == 'sup'"}], "mark": {"type": "text", "fontSize": 11},
      "encoding": {"text": {"field": "t"}, "fill": {"field": "tc", "type": "nominal", "legend": null}}},
     {"data": {"name": "bTxt"}, "transform": [{"filter": "datum.k == 'sub'"}], "mark": {"type": "text", "fontSize": 11, "fontStyle": "italic"},
      "encoding": {"text": {"field": "t"}, "fill": {"field": "tc", "type": "nominal", "legend": null}}},
     {"data": {"name": "bTxt"}, "transform": [{"filter": "datum.k == 'title'"}], "mark": {"type": "text", "fontSize": 14, "align": "center", "color": "#000000"},
      "encoding": {"text": {"field": "t"}}},
     {"data": {"name": "bTxt"}, "transform": [{"filter": "datum.k == 'letter'"}], "mark": {"type": "text", "fontSize": 18, "fontWeight": "bold", "color": "#000000"},
      "encoding": {"text": {"field": "t"}}},
     {"data": {"name": "bPt"}, "mark": {"type": "point", "opacity": 0},
      "encoding": {
       "x": {"field": "N", "type": "quantitative", "scale": {"type": "log", "domain": [10, 1000], "nice": false}, "axis": {"orient": "top", "values": [10,20,30,40,50,60,70,80,90,100,200,300,400,500,600,700,800,900,1000], "labels": false, "title": null, "tickSize": -4}},
       "y": {"field": "Rg", "type": "quantitative", "scale": {"type": "log", "domain": [8.06, 100], "nice": false}, "axis": {"orient": "right", "values": [9,10,20,30,40,50,60,70,80,90,100], "labels": false, "title": null, "tickSize": -4}}}}
    ],
    "resolve": {"axis": {"x": "independent", "y": "independent"}}}
 ],
 "spacing": 9,
 "resolve": {"legend": {"color": "independent"}}},
 {"hconcat": [
   {"width": 1, "height": 103, "view": {"stroke": null},
    "data": {"name": "cLetter"},
    "mark": {"type": "text", "fontSize": 18, "fontWeight": "bold", "color": "#000000"},
    "encoding": {
     "x": {"field": "x", "type": "quantitative", "scale": {"domain": [0, 1], "nice": false, "zero": false}, "axis": null},
     "y": {"field": "y", "type": "quantitative", "scale": {"domain": [0, 103], "nice": false, "zero": false}, "axis": null},
     "text": {"field": "t"}}},
   {"hconcat": [
     {"width": 209, "height": 103,
      "encoding": {
        "x": {"field": "x", "type": "quantitative", "scale": {"domain": [-0.08, 8.15], "nice": false, "zero": false}, "axis": null},
        "y": {"field": "y", "type": "quantitative", "scale": {"domain": [15.4, 68], "nice": false, "zero": false}, "axis": null}
      },
      "layer": [
       {"data": {"name": "cDash1"}, "mark": {"type": "rule", "color": "#8c8c8c", "strokeWidth": 1.5, "strokeDash": [8, 5]},
        "encoding": {"x": null, "y": {"field": "y", "type": "quantitative", "scale": {"domain": [15.4, 68], "nice": false, "zero": false},
          "axis": {"values": [16,18,20,22,24,26,28,30,32,34,36,38,40,42,44,46,48,50,52,54,56,58,60,62,64,66,68], "labelExpr": "datum.value % 10 == 0 ? datum.label : ''", "title": null, "tickSize": {"condition": {"test": "datum.value % 10 == 0", "value": 9}, "value": 5}, "labelPadding": 4, "labelFontSize": 15}}}},
       {"data": {"name": "cLine1"}, "mark": {"type": "line", "color": "#7a7a7a", "strokeWidth": 1.5, "interpolate": "monotone"},
        "encoding": {"x": {"field": "x", "type": "quantitative", "scale": {"domain": [-0.08, 8.15], "nice": false, "zero": false},
          "axis": {"values": [0,1,2,3,4,5,6,7,8], "labelExpr": "datum.value % 2 == 0 ? datum.label : ''", "title": "[Gdn] (M)", "titleY": 33, "titleBaseline": "alphabetic", "titleFontSize": 15, "tickSize": 4, "labelBaseline": "alphabetic", "labelPadding": 11, "labelFontSize": 15}}}},
       {"data": {"name": "cOpen1"}, "mark": {"type": "point", "filled": true, "fill": "#ffffff", "stroke": "#111111", "strokeWidth": 1, "size": 50, "opacity": 1}},
       {"data": {"name": "cErr1"}, "mark": {"type": "rule", "strokeWidth": 1},
        "encoding": {"y": {"field": "lo", "type": "quantitative", "scale": {"domain": [15.4, 68], "nice": false, "zero": false}, "axis": null}, "y2": {"field": "hi"},
         "color": {"field": "s", "type": "nominal", "scale": {"domain": ["r","b","o","k","p"], "range": ["#e8232a","#3b57a7","#ef7d2d","#111111","#a84aa8"]}, "legend": null}}},
       {"data": {"name": "cPt1"}, "mark": {"type": "circle", "size": 60, "opacity": 1},
        "encoding": {"color": {"field": "s", "type": "nominal", "legend": null}}},
       {"data": {"name": "cTxt1"}, "transform": [{"filter": "datum.k == 'big'"}], "mark": {"type": "text", "fontSize": 17, "color": "#000000"},
        "encoding": {"text": {"field": "t"}}},
       {"data": {"name": "cTxt1"}, "transform": [{"filter": "datum.k == 'sub'"}], "mark": {"type": "text", "fontSize": 12, "fontStyle": "italic", "color": "#000000"},
        "encoding": {"text": {"field": "t"}}},
       {"data": {"name": "cTxt1"}, "transform": [{"filter": "datum.k == 'lab'"}], "mark": {"type": "text", "fontSize": 14, "color": "#000000"},
        "encoding": {"text": {"field": "t"}}}
      ],
      "resolve": {"axis": {"x": "independent", "y": "independent"}}},
     {"width": 209, "height": 103,
      "encoding": {
        "x": {"field": "x", "type": "quantitative", "scale": {"domain": [-0.09, 8.25], "nice": false, "zero": false}, "axis": null},
        "y": {"field": "y", "type": "quantitative", "scale": {"domain": [0.2928, 0.6157], "nice": false, "zero": false}, "axis": null}
      },
      "layer": [
       {"data": {"name": "cDash2"}, "mark": {"type": "rule", "color": "#8c8c8c", "strokeWidth": 1.5, "strokeDash": [8, 5]},
        "encoding": {"x": null, "y": {"field": "y", "type": "quantitative", "scale": {"domain": [0.2928, 0.6157], "nice": false, "zero": false},
          "axis": {"orient": "right", "values": [0.3,0.32,0.34,0.36,0.38,0.4,0.42,0.44,0.46,0.48,0.5,0.52,0.54,0.56,0.58,0.6], "labelExpr": "abs(datum.value*10 - round(datum.value*10)) < 0.001 ? format(datum.value, '.1f') : ''", "title": "ν", "titleAngle": 0, "titleFontSize": 18, "titleFont": "Liberation Serif", "titlePadding": 11, "tickSize": {"condition": {"test": "abs(datum.value*10 - round(datum.value*10)) < 0.001", "value": 7}, "value": 4}, "labelPadding": 10, "labelFontSize": 15}}}},
       {"data": {"name": "cLine2"}, "mark": {"type": "line", "color": "#7a7a7a", "strokeWidth": 1.5, "interpolate": "monotone"},
        "encoding": {"x": {"field": "x", "type": "quantitative", "scale": {"domain": [-0.09, 8.25], "nice": false, "zero": false},
          "axis": {"values": [0,1,2,3,4,5,6,7,8], "labelExpr": "datum.value % 2 == 0 ? datum.label : ''", "title": "[Gdn] (M)", "titleY": 33, "titleBaseline": "alphabetic", "titleFontSize": 15, "tickSize": 4, "labelBaseline": "alphabetic", "labelPadding": 11, "labelFontSize": 15}}}},
       {"data": {"name": "cOpen2"}, "mark": {"type": "point", "filled": true, "fill": "#ffffff", "stroke": "#111111", "strokeWidth": 1, "size": 50, "opacity": 1}},
       {"data": {"name": "cErr2"}, "mark": {"type": "rule", "strokeWidth": 1},
        "encoding": {"y": {"field": "lo", "type": "quantitative", "scale": {"domain": [0.2928, 0.6157], "nice": false, "zero": false}, "axis": null}, "y2": {"field": "hi"},
         "color": {"field": "s", "type": "nominal", "scale": {"domain": ["r","b","o","k","p"], "range": ["#e8232a","#3b57a7","#ef7d2d","#111111","#a84aa8"]}, "legend": null}}},
       {"data": {"name": "cPt2"}, "mark": {"type": "circle", "size": 60, "opacity": 1},
        "encoding": {"color": {"field": "s", "type": "nominal", "legend": null}}}
      ],
      "resolve": {"axis": {"x": "independent", "y": "independent"}}}
   ],
   "spacing": 15,
   "resolve": {"legend": {"color": "independent"}}}
 ],
 "spacing": 31,
 "resolve": {"legend": {"color": "independent"}}}
],
"columns": 1,
"align": "none",
"spacing": 15,
"resolve": {"legend": {"color": "independent"}}
}
